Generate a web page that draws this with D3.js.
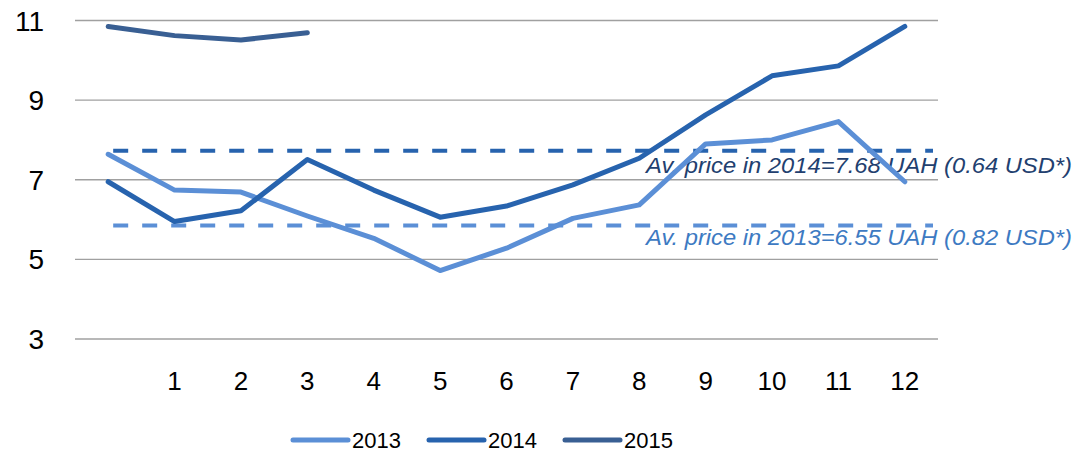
<!DOCTYPE html>
<html><head><meta charset="utf-8">
<script src="https://cdn.jsdelivr.net/npm/d3@7/dist/d3.min.js"></script>
<style>body{margin:0;background:#fff}svg{display:block;font-family:"Liberation Sans",Arial,sans-serif}</style>
</head><body><svg id="c" width="1078" height="452"></svg>
<script>
const categories = ["", "1", "2", "3", "4", "5", "6", "7", "8", "9", "10", "11", "12"];
const yTicks = [3, 5, 7, 9, 11];
const series2013 = [7.64, 6.74, 6.69, 6.09, 5.53, 4.72, 5.28, 6.03, 6.37, 7.90, 8.00, 8.46, 6.95];
const series2014 = [6.95, 5.95, 6.22, 7.51, 6.74, 6.06, 6.34, 6.87, 7.54, 8.63, 9.61, 9.86, 10.85];
const series2015 = [10.85, 10.62, 10.51, 10.69];
const seriesNames = ["2013", "2014", "2015"];
const avgLevels = [5.85, 7.73];
const avgLabels = ["Av. price in 2013=6.55 UAH (0.82 USD*)", "Av. price in 2014=7.68 UAH (0.64 USD*)"];

const colors = ["#5B8FD6", "#2763AE", "#395F93"];
const avgText = ["#3D7AC2", "#22406F"];

const svg = d3.select("#c");
const x = d3.scalePoint().domain(d3.range(categories.length)).range([75, 938]).padding(0.5);
const y = d3.scaleLinear().domain([3, 11]).range([339, 20.5]);

// gridlines
svg.append("g").selectAll("line").data(yTicks).join("line")
  .attr("x1", 75).attr("x2", 938)
  .attr("y1", d => y(d)).attr("y2", d => y(d))
  .attr("stroke", "#a0a0a0").attr("stroke-width", 1.4);

// y labels
svg.append("g").selectAll("text").data(yTicks).join("text")
  .attr("x", 44).attr("y", d => y(d)).attr("dy", "0.36em")
  .attr("text-anchor", "end").attr("font-size", 28).attr("fill", "#000")
  .text(d => d);

// x labels
svg.append("g").selectAll("text").data(categories).join("text")
  .attr("x", (d, i) => x(i)).attr("y", 390)
  .attr("text-anchor", "middle").attr("font-size", 26).attr("fill", "#000")
  .text(d => d);

const line = d3.line().x((d, i) => x(i)).y(d => y(d));

// avg labels
const labelY = [245, 173];
avgLabels.forEach((t, i) => {
  svg.append("text").attr("x", 646).attr("y", labelY[i])
    .attr("font-size", 22).attr("font-style", "italic").attr("fill", avgText[i])
    .attr("textLength", 426).attr("lengthAdjust", "spacingAndGlyphs")
    .text(t);
});

// average dashed lines
avgLevels.forEach((v, i) => {
  svg.append("line")
    .attr("x1", x(0) + 5).attr("x2", x.range()[1] - 5)
    .attr("y1", y(v)).attr("y2", y(v))
    .attr("stroke", colors[i]).attr("stroke-width", 4)
    .attr("stroke-dasharray", "15,14");
});

[series2013, series2014, series2015].forEach((s, i) => {
  svg.append("path").datum(s).attr("d", line)
    .attr("fill", "none").attr("stroke", colors[i]).attr("stroke-width", 5)
    .attr("stroke-linejoin", "round").attr("stroke-linecap", "round");
});

// legend
const legX = [293, 429, 565];
const lg = svg.append("g");
seriesNames.forEach((n, i) => {
  lg.append("line").attr("x1", legX[i]).attr("x2", legX[i] + 55)
    .attr("y1", 440).attr("y2", 440)
    .attr("stroke", colors[i]).attr("stroke-width", 5).attr("stroke-linecap", "round");
  lg.append("text").attr("x", legX[i] + 59).attr("y", 448)
    .attr("font-size", 22).attr("fill", "#000").text(n);
});
</script></body></html>
